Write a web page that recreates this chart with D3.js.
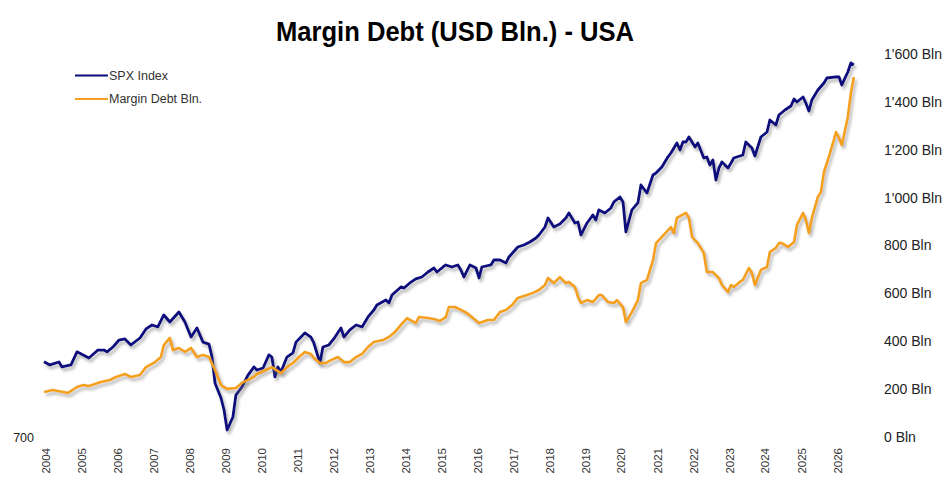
<!DOCTYPE html>
<html>
<head>
<meta charset="utf-8">
<title>Margin Debt - USA</title>
<script src="https://cdn.jsdelivr.net/npm/d3@7"></script>
<style>
body { margin: 0; background: #fff; }
svg { font-family: Arial, "Liberation Sans", sans-serif; }
.title { font-size: 28px; font-weight: bold; fill: #000; }
.legend text { font-size: 12.5px; fill: #333; }
.axis text { font-size: 14px; fill: #222; }
.axis path, .axis line { display: none; }
.laxis text { font-size: 12.5px; }
.xaxis text { font-size: 11.5px; fill: #333; }
</style>
</head>
<body>
<script>

// values (month, value)
var spxDates = ["2004-01","2004-03","2004-06","2004-07","2004-10","2004-12","2005-02","2005-04","2005-07","2005-09",
  "2005-10","2005-12","2006-02","2006-04","2006-06","2006-09","2006-11","2007-01","2007-03","2007-05",
  "2007-07","2007-10","2007-12","2008-02","2008-04","2008-06","2008-08","2008-09","2008-10","2008-12",
  "2009-01","2009-02","2009-04","2009-05","2009-07","2009-09","2009-11","2009-12","2010-02","2010-04",
  "2010-05","2010-06","2010-07","2010-08","2010-10","2010-12","2011-01","2011-04","2011-06","2011-07",
  "2011-09","2011-10","2011-12","2012-02","2012-04","2012-05","2012-07","2012-09","2012-11","2013-01",
  "2013-03","2013-04","2013-07","2013-08","2013-09","2013-12","2014-01","2014-03","2014-05","2014-07",
  "2014-09","2014-11","2014-12","2015-02","2015-03","2015-05","2015-07","2015-08","2015-09","2015-11",
  "2016-01","2016-02","2016-03","2016-06","2016-07","2016-09","2016-11","2016-12","2017-03","2017-05",
  "2017-07","2017-09","2017-10","2017-12","2018-01","2018-03","2018-05","2018-07","2018-08","2018-10",
  "2018-11","2018-12","2019-02","2019-04","2019-05","2019-06","2019-08","2019-10","2019-11","2020-01",
  "2020-02","2020-03","2020-05","2020-07","2020-08","2020-10","2020-12","2021-01","2021-03","2021-05",
  "2021-06","2021-08","2021-09","2021-10","2021-11","2021-12","2022-02","2022-03","2022-05","2022-06",
  "2022-07","2022-08","2022-09","2022-10","2022-11","2023-01","2023-02","2023-03","2023-06","2023-07",
  "2023-09","2023-10","2023-12","2024-02","2024-03","2024-05","2024-06","2024-08","2024-10","2024-11",
  "2024-12","2025-02","2025-03","2025-04","2025-05","2025-07","2025-09","2025-10","2026-01","2026-02",
  "2026-03","2026-05","2026-06","2026-07"];
var spxValues = [1130,1107,1128,1093,1107,1203,1180,1157,1217,1217,
  1203,1241,1297,1306,1257,1314,1392,1427,1410,1521,
  1455,1550,1455,1322,1400,1280,1264,1164,987,897,
  831,732,795,914,962,1038,1093,1072,1086,1180,
  1164,1026,1093,1058,1164,1195,1280,1357,1322,1273,
  1121,1241,1257,1322,1400,1322,1383,1427,1410,1502,
  1570,1621,1673,1641,1727,1818,1806,1865,1913,1937,
  1999,2051,1999,2064,2091,2064,2091,2025,1937,2091,
  2051,1925,2064,2091,2158,2158,2118,2200,2344,2374,
  2420,2482,2530,2662,2819,2662,2713,2819,2910,2731,
  2748,2530,2731,2873,2784,2967,2910,3004,3122,3222,
  3122,2580,2967,3102,3477,3305,3705,3753,3899,4154,
  4262,4542,4345,4571,4571,4719,4428,4542,4128,4154,
  3949,4076,3590,3874,4025,3874,3999,4128,4209,4571,
  4400,4181,4719,4871,5257,5093,5427,5603,5748,6009,
  5895,6086,5858,5567,5971,6364,6654,6868,6912,6912,
  6570,7135,7555,7462];

var marginDates = ["2004-01","2004-04","2004-09","2004-12","2005-02","2005-04","2005-08","2005-11","2006-01","2006-04",
  "2006-06","2006-09","2006-11","2007-02","2007-04","2007-05","2007-07","2007-08","2007-10","2007-12",
  "2008-02","2008-04","2008-06","2008-08","2008-10","2008-12","2009-02","2009-05","2009-07","2009-11",
  "2009-12","2010-03","2010-05","2010-08","2010-10","2010-12","2011-02","2011-04","2011-06","2011-07",
  "2011-09","2011-11","2011-12","2012-03","2012-05","2012-07","2012-09","2012-11","2013-01","2013-03",
  "2013-06","2013-08","2013-10","2013-12","2014-02","2014-05","2014-06","2014-09","2014-11","2015-01",
  "2015-03","2015-04","2015-06","2015-08","2015-10","2015-12","2016-02","2016-05","2016-07","2016-09",
  "2016-11","2017-01","2017-03","2017-06","2017-08","2017-10","2017-12","2018-01","2018-03","2018-05",
  "2018-07","2018-08","2018-10","2018-11","2018-12","2019-02","2019-04","2019-06","2019-07","2019-09",
  "2019-11","2019-12","2020-02","2020-03","2020-05","2020-07","2020-08","2020-10","2020-12","2021-01",
  "2021-03","2021-06","2021-07","2021-08","2021-11","2021-12","2022-01","2022-03","2022-05","2022-06",
  "2022-08","2022-10","2022-11","2023-01","2023-02","2023-03","2023-05","2023-06","2023-08","2023-09",
  "2023-10","2023-12","2024-02","2024-03","2024-05","2024-06","2024-07","2024-09","2024-11","2024-12",
  "2025-02","2025-03","2025-04","2025-05","2025-07","2025-08","2025-09","2025-11","2025-12","2026-01",
  "2026-02","2026-03","2026-05","2026-06","2026-07"];
var marginValues = [188,196,184,209,217,213,230,238,251,263,
  251,259,292,313,334,384,414,363,372,355,
  372,334,343,334,280,217,201,205,226,251,
  263,280,292,267,292,309,334,355,347,330,
  309,309,317,334,313,313,334,347,376,397,
  405,418,439,468,497,476,501,497,493,485,
  501,543,543,531,518,497,476,489,489,522,
  531,551,581,593,602,614,635,664,643,668,
  643,648,627,585,560,572,564,593,593,564,
  560,572,543,480,522,572,643,656,739,810,
  836,877,852,915,936,915,836,810,769,689,
  689,664,635,606,635,627,648,656,706,685,
  635,698,710,773,790,810,810,794,815,886,
  936,907,852,915,1003,1023,1107,1186,1228,1274,
  1249,1220,1337,1437,1504];

var marginTicks = [0,200,400,600,800,1000,1200,1400,1600];
var spxTicks = [700];
var seriesNames = ["SPX Index", "Margin Debt Bln."];
var seriesColors = ["#0b0b7d", "#f5a01f"];

var width = 945, height = 491;
var parseMonth = d3.timeParse("%Y-%m");

var svg = d3.select("body").append("svg")
    .attr("width", width)
    .attr("height", height);

var defs = svg.append("defs");
defs.append("filter")
    .attr("id", "shadow")
    .attr("x", "-5%").attr("y", "-5%")
    .attr("width", "110%").attr("height", "115%")
  .append("feDropShadow")
    .attr("dx", 2).attr("dy", 3)
    .attr("stdDeviation", 1.5)
    .attr("flood-color", "#777")
    .attr("flood-opacity", 0.55);

var x = d3.scaleTime()
    .domain([new Date(2004, 0, 1), new Date(2026, 0, 1)])
    .range([44, 836]);
var ySpx = d3.scaleLog().domain([700, 8000]).range([437, 54]);
var yMargin = d3.scaleLinear().domain([0, 1600]).range([437, 54]);

svg.append("text")
    .attr("class", "title")
    .attr("x", 276).attr("y", 41)
    .attr("textLength", 358)
    .attr("lengthAdjust", "spacingAndGlyphs")
    .text("Margin Debt (USD Bln.) - USA");

// axes
var fmt = d3.formatLocale({decimal: ".", thousands: "'", grouping: [3], currency: ["", ""]}).format(",");

svg.append("g")
    .attr("class", "axis")
    .attr("transform", "translate(884,0)")
    .call(d3.axisRight(yMargin).tickValues(marginTicks).tickSize(0).tickPadding(0)
      .tickFormat(function(d) { return fmt(d) + " Bln"; }));

svg.append("g")
    .attr("class", "axis laxis")
    .attr("transform", "translate(34,0)")
    .call(d3.axisLeft(ySpx).tickValues(spxTicks).tickSize(0).tickPadding(0)
      .tickFormat(d3.format("d")));

svg.append("g")
    .attr("class", "axis xaxis")
    .attr("transform", "translate(1,446)")
    .call(d3.axisBottom(x).ticks(d3.timeYear.every(1)).tickSize(0)
      .tickFormat(d3.timeFormat("%Y")))
  .selectAll("text")
    .attr("transform", "rotate(-90)")
    .attr("x", -2).attr("y", 0)
    .attr("dy", "0.35em")
    .style("text-anchor", "end");

// lines
var spxData = spxDates.map(function(d, i) { return {date: parseMonth(d), value: spxValues[i]}; });
var marginData = marginDates.map(function(d, i) { return {date: parseMonth(d), value: marginValues[i]}; });

var spxLine = d3.line().x(function(d) { return x(d.date); }).y(function(d) { return ySpx(d.value); });
var marginLine = d3.line().x(function(d) { return x(d.date); }).y(function(d) { return yMargin(d.value); });

svg.append("path")
    .datum(spxData)
    .attr("d", spxLine)
    .attr("fill", "none")
    .attr("stroke", seriesColors[0])
    .attr("stroke-width", 2.8)
    .attr("stroke-linejoin", "round")
    .attr("filter", "url(#shadow)");

svg.append("path")
    .datum(marginData)
    .attr("d", marginLine)
    .attr("fill", "none")
    .attr("stroke", seriesColors[1])
    .attr("stroke-width", 2.6)
    .attr("stroke-linejoin", "round")
    .attr("filter", "url(#shadow)");

// legend
var legend = svg.append("g").attr("class", "legend");
seriesNames.forEach(function(name, i) {
  var ly = 75.5 + i * 23.6;
  legend.append("line")
      .attr("x1", 75).attr("x2", 108)
      .attr("y1", ly).attr("y2", ly)
      .attr("stroke", seriesColors[i])
      .attr("stroke-width", 2);
  legend.append("text")
      .attr("x", 109).attr("y", ly)
      .attr("dy", "0.35em")
      .text(name);
});

</script>
</body>
</html>
